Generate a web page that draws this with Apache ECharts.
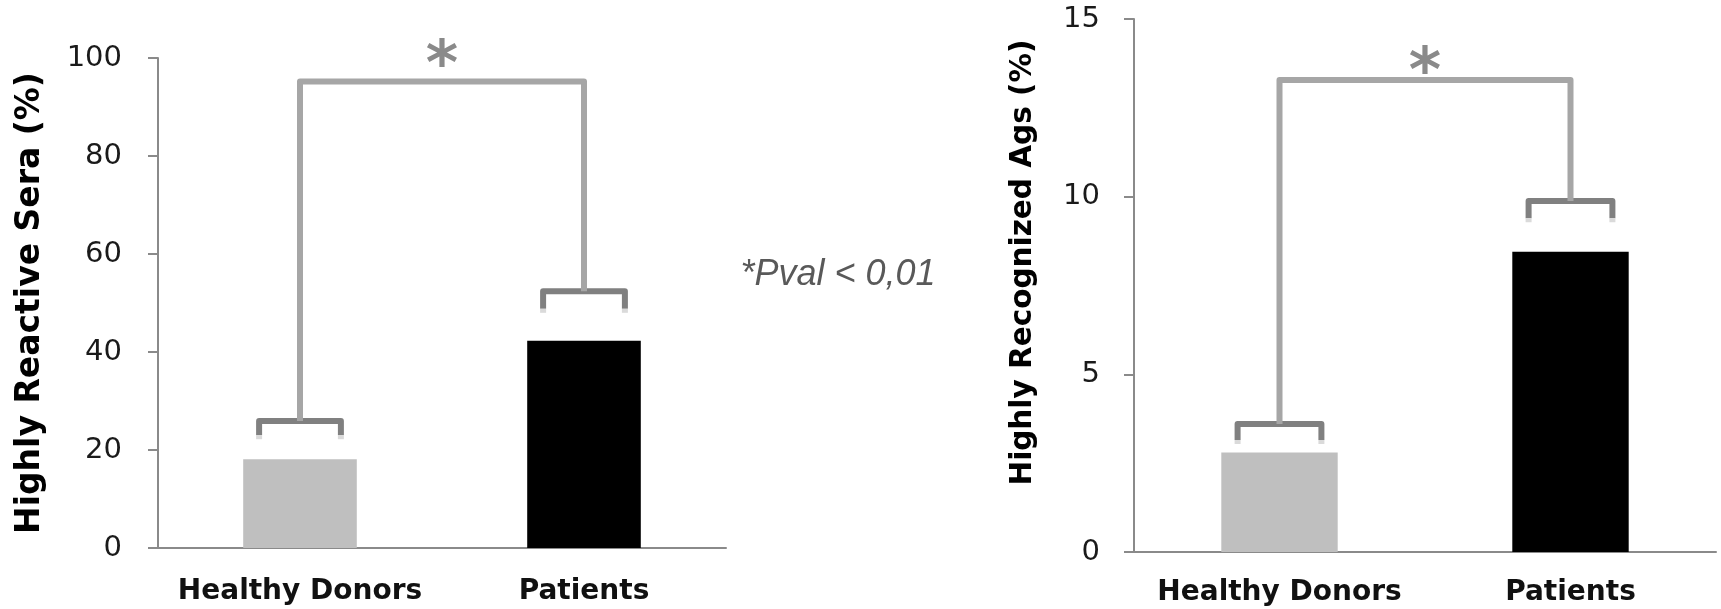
<!DOCTYPE html>
<html>
<head>
<meta charset="utf-8">
<style>
html, body { margin: 0; padding: 0; background: #fff; }
#chart { width: 1721px; height: 609px; }
</style>
<script src="https://cdn.jsdelivr.net/npm/echarts@6/dist/echarts.min.js"></script>
</head>
<body>
<div id="chart"></div>
<script>
// data
var categories = ['Healthy Donors', 'Patients'];
var seraValues = [18.1, 42.3];
var agsValues = [2.8, 8.45];

// significance brackets (value units)
var seraBracketTop = 95.2;
var seraBracketTips = [25.9, 52.4];
var seraBracketLegs = [22.2, 48.0];
var seraStar = 101.3;
var agsBracketTop = 13.28;
var agsBracketTips = [3.6, 9.88];
var agsBracketLegs = [3.04, 9.28];
var agsStar = 13.88;

var barColors = ['#bfbfbf', '#000000'];
var axisGray = '#8a8a8a';

function bigBracket(tips, top) {
    return [[0, tips[0]], [0, top], [1, top], [1, tips[1]]];
}

function smallBracket(params, api) {
    var c = api.coord([api.value(0), api.value(1)]);
    var low = api.coord([api.value(0), api.value(2)]);
    var half = api.size([1, 0])[0] * 0.4 * 0.72 / 2;
    var x0 = c[0] - half, x1 = c[0] + half;
    var yEnd = low[1] - 4;
    return {
        type: 'group',
        children: [
            {
                type: 'polyline',
                shape: { points: [[x0, yEnd], [x0, c[1]], [x1, c[1]], [x1, yEnd]] },
                style: { stroke: '#808080', lineWidth: 6, fill: null, lineJoin: 'round' }
            },
            {
                type: 'line',
                shape: { x1: x0, y1: yEnd, x2: x0, y2: low[1] },
                style: { stroke: '#dadada', lineWidth: 6 }
            },
            {
                type: 'line',
                shape: { x1: x1, y1: yEnd, x2: x1, y2: low[1] },
                style: { stroke: '#dadada', lineWidth: 6 }
            }
        ]
    };
}

function star(params, api) {
    var p0 = api.coord([0, api.value(0)]);
    var p1 = api.coord([1, api.value(0)]);
    // the glyph sits high in its box, push it down so its centre is on the value
    return {
        type: 'text',
        x: (p0[0] + p1[0]) / 2,
        y: p0[1] + 16,
        style: {
            text: '*',
            fill: '#8a8a8a',
            font: 'bold 62px "DejaVu Sans"',
            align: 'center',
            verticalAlign: 'middle'
        }
    };
}

function xAxisOpt(gridIndex, margin) {
    return {
        type: 'category',
        gridIndex: gridIndex,
        data: categories,
        axisLine: { lineStyle: { color: axisGray, width: 2 } },
        axisTick: { length: 10, lineStyle: { color: axisGray, width: 2 } },
        axisLabel: {
            interval: 0,
            margin: margin,
            color: '#111',
            fontFamily: 'DejaVu Sans',
            fontWeight: 'bold',
            fontSize: 28
        }
    };
}

function yAxisOpt(gridIndex, max, interval, name, nameSize, nameGap, margin, shift) {
    return {
        type: 'value',
        gridIndex: gridIndex,
        min: 0,
        max: max,
        interval: interval,
        name: name,
        nameLocation: 'middle',
        nameGap: nameGap,
        nameTextStyle: {
            color: '#000',
            fontFamily: 'DejaVu Sans',
            fontWeight: 'bold',
            fontSize: nameSize,
            padding: [0, 0, 0, shift]
        },
        splitLine: { show: false },
        axisLine: { show: true, lineStyle: { color: axisGray, width: 2 } },
        axisTick: { show: true, length: 10, lineStyle: { color: axisGray, width: 2 } },
        axisLabel: {
            margin: margin,
            color: '#1a1a1a',
            fontFamily: 'DejaVu Sans',
            fontSize: 29
        }
    };
}

var chart = echarts.init(document.getElementById('chart'));
chart.setOption({
    backgroundColor: '#fff',
    animation: false,
    grid: [
        { left: 158, top: 58, width: 568, height: 490 },
        { left: 1134, top: 19, width: 582, height: 533 }
    ],
    xAxis: [xAxisOpt(0, 30), xAxisOpt(1, 27)],
    yAxis: [
        yAxisOpt(0, 100, 20, 'Highly Reactive Sera (%)', 33, 111, 36, 0),
        yAxisOpt(1, 15, 5, 'Highly Recognized Ags (%)', 29.5, 96, 34, 46)
    ],
    series: [
        {
            type: 'bar', xAxisIndex: 0, yAxisIndex: 0, barWidth: '40%',
            data: seraValues.map(function (v, i) { return { value: v, itemStyle: { color: barColors[i] } }; })
        },
        {
            type: 'bar', xAxisIndex: 1, yAxisIndex: 1, barWidth: '40%',
            data: agsValues.map(function (v, i) { return { value: v, itemStyle: { color: barColors[i] } }; })
        },
        {
            type: 'line', xAxisIndex: 0, yAxisIndex: 0, symbol: 'none', silent: true,
            lineStyle: { color: '#a6a6a6', width: 6, join: 'round' },
            data: bigBracket(seraBracketTips, seraBracketTop)
        },
        {
            type: 'line', xAxisIndex: 1, yAxisIndex: 1, symbol: 'none', silent: true,
            lineStyle: { color: '#a6a6a6', width: 6, join: 'round' },
            data: bigBracket(agsBracketTips, agsBracketTop)
        },
        {
            type: 'custom', xAxisIndex: 0, yAxisIndex: 0, clip: false, silent: true,
            renderItem: smallBracket,
            data: [[0, seraBracketTips[0], seraBracketLegs[0]], [1, seraBracketTips[1], seraBracketLegs[1]]]
        },
        {
            type: 'custom', xAxisIndex: 1, yAxisIndex: 1, clip: false, silent: true,
            renderItem: smallBracket,
            data: [[0, agsBracketTips[0], agsBracketLegs[0]], [1, agsBracketTips[1], agsBracketLegs[1]]]
        },
        {
            type: 'custom', xAxisIndex: 0, yAxisIndex: 0, clip: false, silent: true,
            renderItem: star, data: [[seraStar]]
        },
        {
            type: 'custom', xAxisIndex: 1, yAxisIndex: 1, clip: false, silent: true,
            renderItem: star, data: [[agsStar]]
        }
    ],
    graphic: [
        {
            type: 'text',
            x: 838,
            y: 275,
            style: {
                text: '*Pval < 0,01',
                fill: '#595959',
                font: 'italic 36px "Liberation Sans"',
                align: 'center',
                verticalAlign: 'middle'
            }
        }
    ]
});
</script>
</body>
</html>
